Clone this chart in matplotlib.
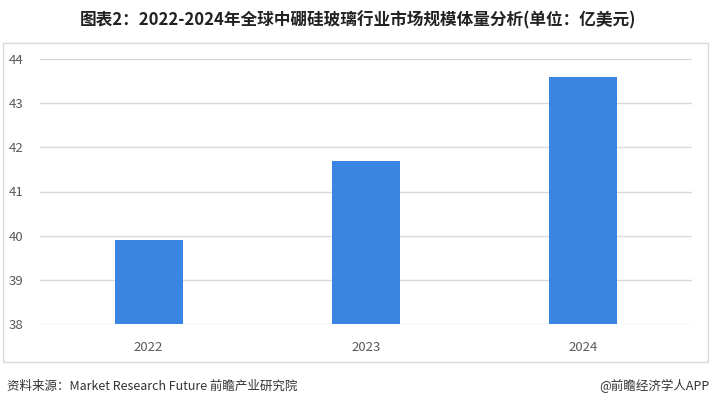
import matplotlib.pyplot as plt
from matplotlib.patches import Rectangle

plt.rcParams['font.family'] = ['Noto Sans CJK SC', 'DejaVu Sans']

# data (亿美元)
years = ['2022', '2023', '2024']
market_size = [39.9, 41.7, 43.6]
yticks = [38, 39, 40, 41, 42, 43, 44]

W, H = 716, 407
fig = plt.figure(figsize=(W / 100, H / 100), dpi=100)

# light frame round the plot area
fig.patches.append(Rectangle((3 / W, 1 - 362 / H), 705 / W, (362 - 42.5) / H,
                             transform=fig.transFigure, fill=False,
                             edgecolor='#d9d9d9', linewidth=1))

ax = fig.add_axes([40 / W, 1 - 324 / H, 652 / W, 265 / H])
x = range(len(years))
ax.bar(x, market_size, width=0.314, color='#3a84e2', zorder=3)
ax.set_xlim(-0.5, 2.5)
ax.set_ylim(38, 44)
ax.set_yticks(yticks)
ax.set_xticks(list(x))
ax.set_xticklabels(years)
ax.grid(axis='y', color='#d9d9d9', linewidth=1, zorder=0)
for s in ax.spines.values():
    s.set_visible(False)
ax.tick_params(length=0, labelsize=9.5, colors='#595959')
ax.tick_params(axis='y', pad=12)
ax.tick_params(axis='x', pad=12)

fig.text(358 / W, 1 - 20 / H,
         '图表2：2022-2024年全球中硼硅玻璃行业市场规模体量分析(单位：亿美元)',
         ha='center', va='center', fontsize=12, fontweight='bold', color='#222222')
fig.text(7 / W, 1 - 386 / H, '资料来源：Market Research Future 前瞻产业研究院',
         ha='left', va='center', fontsize=9, color='#333333')
fig.text(709 / W, 1 - 386 / H, '@前瞻经济学人APP',
         ha='right', va='center', fontsize=9, color='#333333')

plt.savefig('out.png', dpi=100)
